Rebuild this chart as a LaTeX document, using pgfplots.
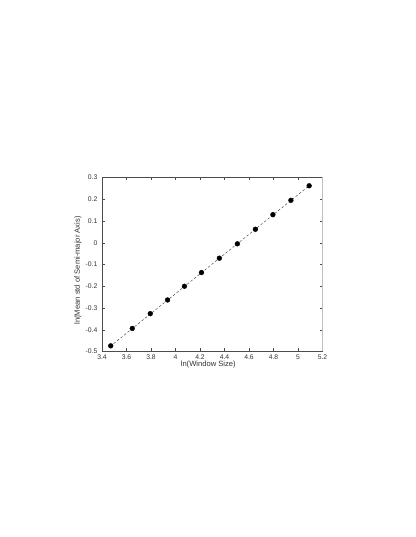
\documentclass[border=0pt]{standalone}
\usepackage{fontspec}
\setmainfont{Liberation Sans}
\usepackage{pgfplots}
\pgfplotsset{compat=1.18}
\begin{document}
\begin{tikzpicture}[x=1pt,y=1pt]
% page of the original figure
\path[use as bounding box, fill=white] (0,0) rectangle (415,537);
\begin{axis}[
    at={(102pt,185.5pt)}, anchor=south west,
    scale only axis,
    width=220.5pt, height=174pt,
    xmin=3.4, xmax=5.2, ymin=-0.5, ymax=0.3,
    xtick={3.4,3.6,3.8,4,4.2,4.4,4.6,4.8,5,5.2},
    ytick={-0.5,-0.4,-0.3,-0.2,-0.1,0,0.1,0.2,0.3},
    tick align=inside,
    major tick length=3pt,
    tick style={black!70, line width=0.4pt},
    axis line style={black!70, line width=0.5pt},
    /pgf/number format/assume math mode=true,
    ticklabel style={font=\fontsize{6.8}{8}\selectfont, text=black!80, inner sep=0pt},
    xticklabel style={anchor=center, yshift=-5.5pt},
    yticklabel style={anchor=east, xshift=-4.5pt},
    xlabel={ln(Window Size)},
    ylabel={ln(Mean std of Semi-major Axis)},
    label style={font=\fontsize{7.6}{9}\selectfont, text=black!80, inner sep=0pt},
    xlabel style={at={(axis description cs:0.482,-0.0776)}, anchor=center},
    ylabel style={at={(axis description cs:-0.109,0.466)}, anchor=center},
    clip=false,
]
% fitted line
\addplot[black!80, line width=0.4pt, dash pattern=on 2.5pt off 2pt] coordinates {
    (3.466,-0.477) (5.091,0.262)
};
% measured points
\addplot[only marks, mark=*, mark size=2.4pt, black] coordinates {
    (3.471,-0.474) (3.647,-0.394) (3.794,-0.326) (3.935,-0.263)
    (4.073,-0.200) (4.212,-0.137) (4.358,-0.071) (4.505,-0.005)
    (4.652,0.062) (4.795,0.129) (4.942,0.195) (5.091,0.262)
};
% grey right edge as in the original export
\draw[black!25, line width=1.6pt] (rel axis cs:1,0) -- (rel axis cs:1,1);
\end{axis}
\end{tikzpicture}
\end{document}
